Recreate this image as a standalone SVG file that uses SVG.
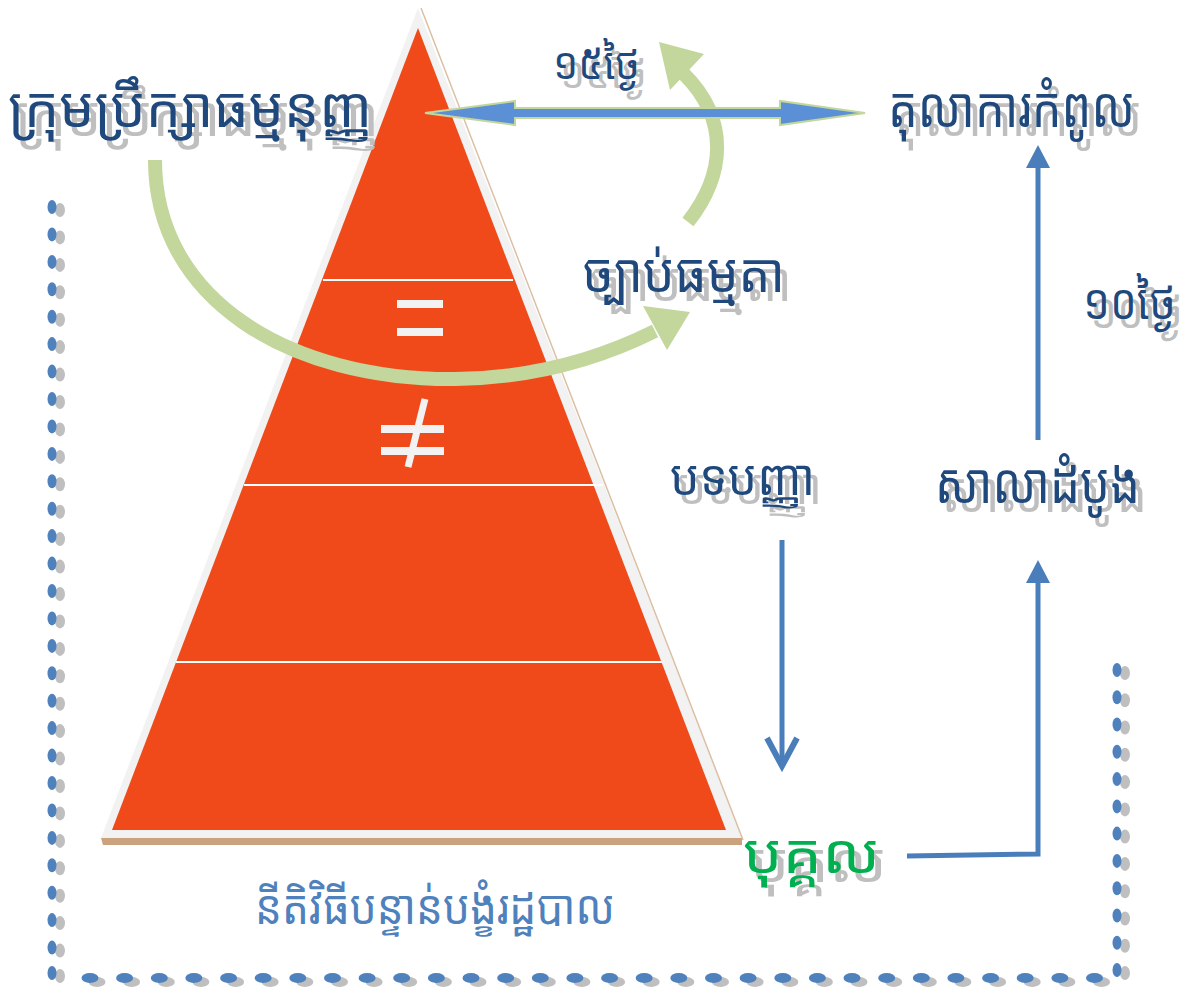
<svg xmlns="http://www.w3.org/2000/svg" xmlns:xlink="http://www.w3.org/1999/xlink" width="1198" height="994" viewBox="0 0 1198 994">
<style>
.km{font-family:"Noto Sans Khmer","Khmer OS","Noto Serif Khmer","Noto Sans","DejaVu Sans",sans-serif;}
.t{fill:#1f497d;}
.sh{fill:#bfbfbf;}
.g{fill:#00b050;}
.lb{fill:#4f81bd;}
.conn{stroke:#4a7ebb;stroke-width:5;fill:none;}
.garc{stroke:#c3d69b;stroke-width:14;fill:none;}
</style>
<defs>
<g id="dv"><ellipse cx="8" cy="3" rx="5" ry="7" fill="#bfbfbf"/><ellipse cx="0" cy="0" rx="4.5" ry="7" fill="#4f81bd"/></g>
<g id="dh"><ellipse cx="7" cy="4" rx="8.5" ry="5" fill="#bfbfbf"/><ellipse cx="0" cy="0" rx="8.5" ry="5" fill="#4f81bd"/></g>
</defs>
<rect width="1198" height="994" fill="#ffffff"/>

<g id="border">
<use xlink:href="#dv" x="52" y="207"/><use xlink:href="#dv" x="52" y="234.4"/><use xlink:href="#dv" x="52" y="261.9"/><use xlink:href="#dv" x="52" y="289.3"/><use xlink:href="#dv" x="52" y="316.7"/><use xlink:href="#dv" x="52" y="344.1"/><use xlink:href="#dv" x="52" y="371.6"/><use xlink:href="#dv" x="52" y="399"/><use xlink:href="#dv" x="52" y="426.4"/><use xlink:href="#dv" x="52" y="453.9"/><use xlink:href="#dv" x="52" y="481.3"/><use xlink:href="#dv" x="52" y="508.7"/><use xlink:href="#dv" x="52" y="536.1"/><use xlink:href="#dv" x="52" y="563.6"/><use xlink:href="#dv" x="52" y="591"/><use xlink:href="#dv" x="52" y="618.4"/><use xlink:href="#dv" x="52" y="645.9"/><use xlink:href="#dv" x="52" y="673.3"/><use xlink:href="#dv" x="52" y="700.7"/><use xlink:href="#dv" x="52" y="728.1"/><use xlink:href="#dv" x="52" y="755.6"/><use xlink:href="#dv" x="52" y="783"/><use xlink:href="#dv" x="52" y="810.4"/><use xlink:href="#dv" x="52" y="837.9"/><use xlink:href="#dv" x="52" y="865.3"/><use xlink:href="#dv" x="52" y="892.7"/><use xlink:href="#dv" x="52" y="920.1"/><use xlink:href="#dv" x="52" y="947.6"/><use xlink:href="#dv" x="52" y="973"/>
<use xlink:href="#dh" x="90" y="978"/><use xlink:href="#dh" x="124.6" y="978"/><use xlink:href="#dh" x="159.3" y="978"/><use xlink:href="#dh" x="193.9" y="978"/><use xlink:href="#dh" x="228.6" y="978"/><use xlink:href="#dh" x="263.2" y="978"/><use xlink:href="#dh" x="297.8" y="978"/><use xlink:href="#dh" x="332.5" y="978"/><use xlink:href="#dh" x="367.1" y="978"/><use xlink:href="#dh" x="401.7" y="978"/><use xlink:href="#dh" x="436.4" y="978"/><use xlink:href="#dh" x="471" y="978"/><use xlink:href="#dh" x="505.7" y="978"/><use xlink:href="#dh" x="540.3" y="978"/><use xlink:href="#dh" x="574.9" y="978"/><use xlink:href="#dh" x="609.6" y="978"/><use xlink:href="#dh" x="644.2" y="978"/><use xlink:href="#dh" x="678.8" y="978"/><use xlink:href="#dh" x="713.5" y="978"/><use xlink:href="#dh" x="748.1" y="978"/><use xlink:href="#dh" x="782.8" y="978"/><use xlink:href="#dh" x="817.4" y="978"/><use xlink:href="#dh" x="852" y="978"/><use xlink:href="#dh" x="886.7" y="978"/><use xlink:href="#dh" x="921.3" y="978"/><use xlink:href="#dh" x="955.9" y="978"/><use xlink:href="#dh" x="990.6" y="978"/><use xlink:href="#dh" x="1025.2" y="978"/><use xlink:href="#dh" x="1059.9" y="978"/><use xlink:href="#dh" x="1094.5" y="978"/>
<use xlink:href="#dv" x="1117" y="670"/><use xlink:href="#dv" x="1117" y="697.3"/><use xlink:href="#dv" x="1117" y="724.5"/><use xlink:href="#dv" x="1117" y="751.8"/><use xlink:href="#dv" x="1117" y="779.1"/><use xlink:href="#dv" x="1117" y="806.4"/><use xlink:href="#dv" x="1117" y="833.6"/><use xlink:href="#dv" x="1117" y="860.9"/><use xlink:href="#dv" x="1117" y="888.2"/><use xlink:href="#dv" x="1117" y="915.5"/><use xlink:href="#dv" x="1117" y="942.7"/><use xlink:href="#dv" x="1117" y="970"/>
</g>

<g id="pyramid">
<polygon points="101,838 742,838 742,845 103,845" fill="#caa27e"/>
<polygon points="418,8 101,838 742,838" fill="#f2f2f2"/>
<line x1="421" y1="8" x2="743" y2="840" stroke="#dcbfa3" stroke-width="1.5"/>
<polygon points="418,28 112,830 726,830" fill="#f04a1a"/>
<line x1="323" y1="280" x2="513" y2="280" stroke="#ffffff" stroke-width="2"/>
<line x1="244" y1="485" x2="603" y2="485" stroke="#ffffff" stroke-width="2"/>
<line x1="176" y1="662" x2="662" y2="662" stroke="#ffffff" stroke-width="2"/>
<rect x="397" y="300" width="46" height="8" fill="#f2f2f2"/>
<rect x="397" y="328" width="46" height="8" fill="#f2f2f2"/>
<rect x="381" y="425" width="63" height="8" fill="#f2f2f2"/>
<rect x="381" y="447" width="63" height="8" fill="#f2f2f2"/>
<line x1="425" y1="399" x2="408" y2="467" stroke="#f2f2f2" stroke-width="7"/>
</g>

<g id="connectors">
<path class="garc" d="M155,160 C155,300 290,380 455,379 C540,378 605,356 655,331"/>
<polygon points="690,312 667,350 643,306" fill="#c3d69b"/>
<path class="garc" d="M688,222 C725,175 730,120 684,74"/>
<polygon points="659,42 704,54 670,90" fill="#c3d69b"/>
<polygon points="425,113 515,101 515,108 780,108 780,101 865,113 780,125 780,118 515,118 515,125" fill="#5b8fd6" stroke="#c3d69b" stroke-width="2" stroke-linejoin="miter"/>
<line class="conn" x1="1038" y1="440" x2="1038" y2="165"/>
<polygon points="1038,145 1026,168 1050,168" fill="#4a7ebb"/>
<line class="conn" x1="782" y1="540" x2="782" y2="762"/>
<polyline points="767,738 782,766 797,738" fill="none" stroke="#4a7ebb" stroke-width="6" stroke-linejoin="miter"/>
<polyline class="conn" points="907,856 1038,854 1038,580"/>
<polygon points="1038,560 1026,583 1050,583" fill="#4a7ebb"/>
</g>

<g id="n-council">
<text class="km sh" x="15" y="136" font-size="56" textLength="364" lengthAdjust="spacingAndGlyphs">ក្រុមប្រឹក្សាធម្មនុញ្ញ</text>
<text class="km t" x="8" y="127" font-size="56" textLength="364" lengthAdjust="spacingAndGlyphs">ក្រុមប្រឹក្សាធម្មនុញ្ញ</text>
</g>
<g id="n-15days">
<text class="km sh" x="560" y="88" font-size="44" textLength="87" lengthAdjust="spacingAndGlyphs">១៥ថ្ងៃ</text>
<text class="km t" x="553" y="79" font-size="44" textLength="87" lengthAdjust="spacingAndGlyphs">១៥ថ្ងៃ</text>
</g>
<g id="n-supreme">
<text class="km sh" x="895" y="136" font-size="56" textLength="247" lengthAdjust="spacingAndGlyphs">តុលាការកំពូល</text>
<text class="km t" x="888" y="127" font-size="56" textLength="247" lengthAdjust="spacingAndGlyphs">តុលាការកំពូល</text>
</g>
<g id="n-law">
<text class="km sh" x="590" y="301" font-size="54" textLength="202" lengthAdjust="spacingAndGlyphs">ច្បាប់ធម្មតា</text>
<text class="km t" x="583" y="292" font-size="54" textLength="202" lengthAdjust="spacingAndGlyphs">ច្បាប់ធម្មតា</text>
</g>
<g id="n-10days">
<text class="km sh" x="1090" y="328" font-size="50" textLength="93" lengthAdjust="spacingAndGlyphs">១០ថ្ងៃ</text>
<text class="km t" x="1083" y="319" font-size="50" textLength="93" lengthAdjust="spacingAndGlyphs">១០ថ្ងៃ</text>
</g>
<g id="n-regulation">
<text class="km sh" x="677" y="504" font-size="50" textLength="145" lengthAdjust="spacingAndGlyphs">បទបញ្ញា</text>
<text class="km t" x="670" y="495" font-size="50" textLength="145" lengthAdjust="spacingAndGlyphs">បទបញ្ញា</text>
</g>
<g id="n-firstcourt">
<text class="km sh" x="942" y="512" font-size="56" textLength="205" lengthAdjust="spacingAndGlyphs">សាលាដំបូង</text>
<text class="km t" x="935" y="503" font-size="56" textLength="205" lengthAdjust="spacingAndGlyphs">សាលាដំបូង</text>
</g>
<g id="n-individual">
<text class="km sh" x="750" y="882" font-size="54" textLength="137" lengthAdjust="spacingAndGlyphs">បុគ្គល</text>
<text class="km g" x="743" y="873" font-size="54" textLength="137" lengthAdjust="spacingAndGlyphs">បុគ្គល</text>
</g>
<g id="n-procedure">
<text class="km lb" x="255" y="924" font-size="48" textLength="360" lengthAdjust="spacingAndGlyphs">នីតិវិធីបន្ទាន់បង្ខំរដ្ឋបាល</text>
</g>
</svg>
